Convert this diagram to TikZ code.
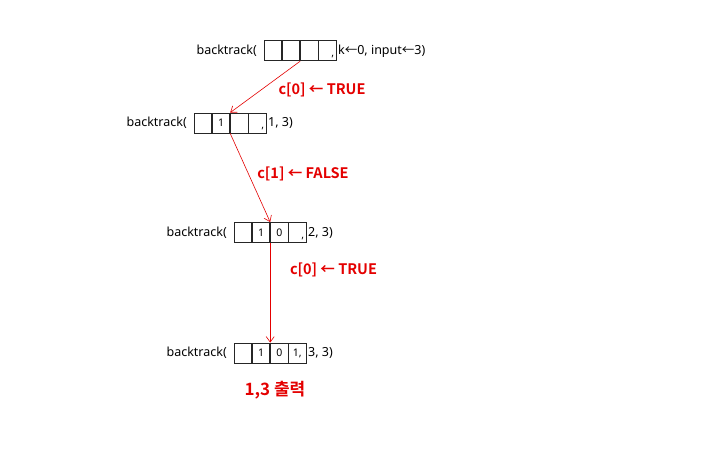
\documentclass[tikz,border=0pt]{standalone}
\usepackage{fontspec}
\setmainfont{Noto Sans}
\newfontfamily\korfont{Noto Sans CJK KR}
\newfontfamily\korbold{Noto Sans CJK KR Bold}
\usetikzlibrary{positioning,arrows.meta}
\definecolor{markred}{RGB}{228,0,0}
\tikzset{
	cell/.style={draw=black!85, line width=0.8pt, minimum width=17.3pt, minimum height=20pt, inner sep=0pt, font=\fontsize{10.5}{11}\selectfont},
	calltext/.style={inner sep=0pt, font=\fontsize{12.5}{15}\selectfont},
	steplabel/.style={text=markred, inner sep=0pt, font=\fontsize{14.5}{16}\korbold},
	branch/.style={draw=markred, line width=0.6pt, -{Straight Barb[length=5.5pt, width=8pt]}}
}
\newcommand{\la}{{\korfont\symbol{"2190}}}
\begin{document}
\begin{tikzpicture}[x=1pt, y=1pt]
	%%%%% START %%%%%
	\useasboundingbox[fill=white] (0,0) rectangle (709,461);
	
	% first call
	\node[cell, anchor=west] (a1c1) at (264, 410.2) {};
	\node[cell, right=0pt of a1c1] (a1c2) {};
	\node[cell, right=0pt of a1c2] (a1c3) {};
	\node[cell, right=0pt of a1c3] (a1c4) {};
	\node[calltext, anchor=south east, font=\fontsize{10.5}{11}\selectfont] at ([xshift=-2pt, yshift=3pt]a1c4.south east) {,};
	\node[calltext, anchor=east] (a1name) at ([xshift=-7pt]a1c1.west) {backtrack(};
	\node[calltext, anchor=west] (a1args) at ([xshift=1.5pt]a1c4.east) {k\la0, input\la3)};
	
	% second call
	\node[cell, anchor=west] (a2c1) at (194, 338) {};
	\node[cell, right=0pt of a2c1] (a2c2) {1};
	\node[cell, right=0pt of a2c2] (a2c3) {};
	\node[cell, right=0pt of a2c3] (a2c4) {};
	\node[calltext, anchor=south east, font=\fontsize{10.5}{11}\selectfont] at ([xshift=-2pt, yshift=3pt]a2c4.south east) {,};
	\node[calltext, anchor=east] (a2name) at ([xshift=-7pt]a2c1.west) {backtrack(};
	\node[calltext, anchor=west] (a2args) at ([xshift=1.5pt]a2c4.east) {1, 3)};
	
	% third call
	\node[cell, anchor=west] (a3c1) at (234, 228.5) {};
	\node[cell, right=0pt of a3c1] (a3c2) {1};
	\node[cell, right=0pt of a3c2] (a3c3) {0};
	\node[cell, right=0pt of a3c3] (a3c4) {};
	\node[calltext, anchor=south east, font=\fontsize{10.5}{11}\selectfont] at ([xshift=-2pt, yshift=3pt]a3c4.south east) {,};
	\node[calltext, anchor=east] (a3name) at ([xshift=-7pt]a3c1.west) {backtrack(};
	\node[calltext, anchor=west] (a3args) at ([xshift=1.5pt]a3c4.east) {2, 3)};
	
	% fourth call
	\node[cell, anchor=west] (a4c1) at (234, 108) {};
	\node[cell, right=0pt of a4c1] (a4c2) {1};
	\node[cell, right=0pt of a4c2] (a4c3) {0};
	\node[cell, right=0pt of a4c3] (a4c4) {1,};
	\node[calltext, anchor=east] (a4name) at ([xshift=-7pt]a4c1.west) {backtrack(};
	\node[calltext, anchor=west] (a4args) at ([xshift=1.5pt]a4c4.east) {3, 3)};
	
	% branches
	\draw[branch] (a1c3.south west) -- (a2c3.north west);
	\draw[branch] (a2c3.south west) -- (a3c3.north west);
	\draw[branch] (a3c3.south west) -- (a4c3.north west);
	
	\node[steplabel] (s1) at (322, 371.5) {c[0] ← TRUE};
	\node[steplabel] (s2) at (303, 287.5) {c[1] ← FALSE};
	\node[steplabel] (s3) at (333.5, 191.5) {c[0] ← TRUE};
	
	\node[steplabel, font=\fontsize{17}{19}\korbold] (out) at (275, 71) {1,3 출력};
	%%%%% END %%%%%
\end{tikzpicture}
\end{document}
